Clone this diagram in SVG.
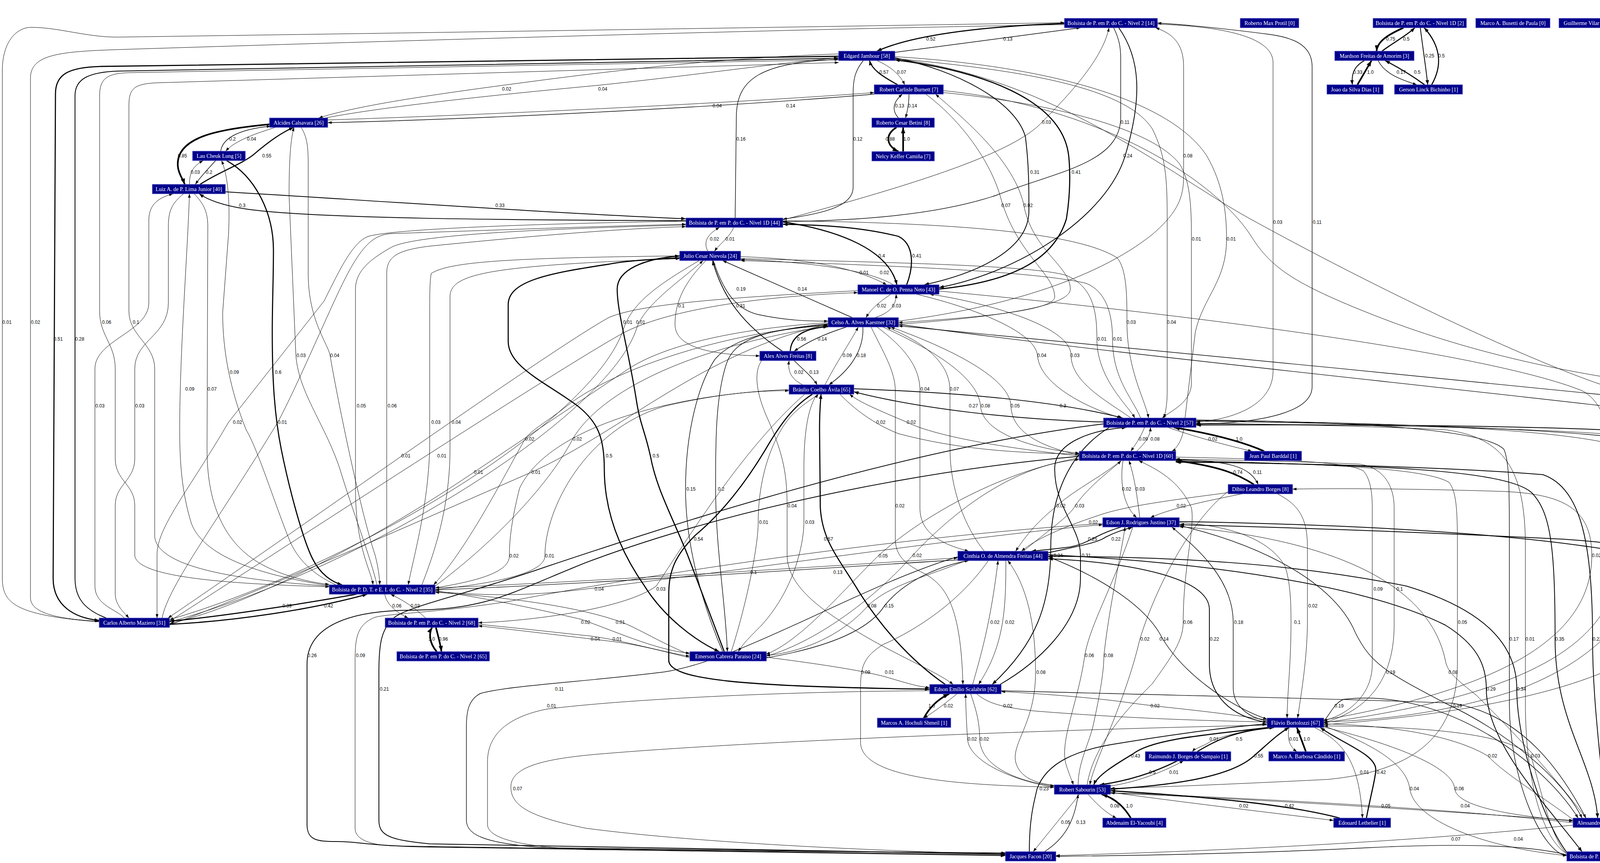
<svg xmlns="http://www.w3.org/2000/svg" width="4675" height="2209" viewBox="0 0 4675 2209">
<defs>
<style>
#edges path{fill:none;stroke:#000}
.w0{stroke-width:1;marker-end:url(#ma)}
.w1{stroke-width:1.4;marker-end:url(#ma)}
.w2{stroke-width:2;marker-end:url(#mb)}
.w3{stroke-width:2.8;marker-end:url(#mb)}
.w4{stroke-width:4.2;marker-end:url(#mc)}
.nd rect{fill:#00008b;stroke:#4848c0;stroke-width:1.2}
.nd text{font-family:"Liberation Serif","Times New Roman",serif;font-size:14px;fill:#fff;text-anchor:middle}
#labels text{font-family:"Liberation Sans",Arial,sans-serif;font-size:12px;fill:#000;text-anchor:middle}
</style>
<marker id="ma" viewBox="0 0 10 10" refX="10" refY="5" markerWidth="10" markerHeight="7" orient="auto" markerUnits="userSpaceOnUse" preserveAspectRatio="none"><path d="M0,0L10,5L0,10z" fill="#000"/></marker>
<marker id="mb" viewBox="0 0 10 10" refX="10" refY="5" markerWidth="12" markerHeight="9" orient="auto" markerUnits="userSpaceOnUse" preserveAspectRatio="none"><path d="M0,0L10,5L0,10z" fill="#000"/></marker>
<marker id="mc" viewBox="0 0 10 10" refX="10" refY="5" markerWidth="15" markerHeight="11" orient="auto" markerUnits="userSpaceOnUse" preserveAspectRatio="none"><path d="M0,0L10,5L0,10z" fill="#000"/></marker>
</defs>
<rect width="4675" height="2209" fill="#fff"/>
<g id="edges">
<path class="w4" d="M3593 71C3555 88 3526 105 3524 131"/>
<path class="w3" d="M3538 131C3565 110 3600 92 3622 71"/>
<path class="w2" d="M3636 71C3642 120 3650 170 3655 217"/>
<path class="w3" d="M3665 217C3692 170 3690 120 3646 71"/>
<path class="w2" d="M3493 155C3462 172 3460 195 3462 217"/>
<path class="w4" d="M3475 217L3511 155"/>
<path class="w1" d="M3528 155C3545 190 3590 205 3627 217"/>
<path class="w3" d="M3647 217C3610 190 3575 170 3546 155"/>
<path class="w3" d="M2725 60C2500 68 2330 92 2245 131"/>
<path class="w1" d="M2291 134L2766 71"/>
<path class="w3" d="M2298 217C2258 195 2232 178 2226 155"/>
<path class="w0" d="M2245 155C2280 170 2305 192 2316 217"/>
<path class="w1" d="M2300 302C2283 283 2285 262 2310 241"/>
<path class="w1" d="M2327 241C2327 262 2323 285 2318 302"/>
<path class="w4" d="M2295 326C2265 345 2268 372 2300 388"/>
<path class="w4" d="M2312 388L2312 326"/>
<path class="w0" d="M839 307C1300 292 1900 262 2238 237"/>
<path class="w1" d="M2238 241C1900 270 1300 303 839 314"/>
<path class="w0" d="M2147 138C1800 150 1500 190 1290 218C1050 250 900 275 816 302"/>
<path class="w0" d="M832 302C1000 270 1300 240 1535 218C1800 190 2000 160 2147 148"/>
<path class="w1" d="M1882 558L1885 300C1885 200 1950 160 2147 152"/>
<path class="w1" d="M2210 155C2190 180 2184 200 2184 240L2184 480C2184 530 2100 548 2004 561"/>
<path class="w0" d="M2004 563C2350 470 2600 390 2670 310C2760 220 2825 140 2839 71"/>
<path class="w1" d="M2851 71C2865 100 2869 120 2869 150L2869 300C2869 420 2700 440 2550 500C2400 550 2200 565 2004 567"/>
<path class="w2" d="M2864 71C2920 150 2925 250 2880 400C2830 560 2600 700 2404 736"/>
<path class="w0" d="M2300 822C2550 790 2800 720 2950 600C3020 540 3030 500 3030 450L3030 170C3030 110 3000 85 2958 71"/>
<path class="w0" d="M2963 62C3150 68 3259 100 3259 160L3259 950C3259 1040 3150 1075 3062 1080"/>
<path class="w1" d="M3062 1086C3250 1082 3359 1050 3359 990L3359 170C3359 110 3300 95 3250 88C3150 75 3050 64 2963 59"/>
<path class="w2" d="M2291 148C2450 180 2600 260 2625 350C2634 420 2634 480 2634 540C2634 640 2500 700 2366 729"/>
<path class="w3" d="M2404 740C2600 720 2700 660 2730 560C2740 500 2740 440 2736 400C2720 250 2500 180 2291 153"/>
<path class="w0" d="M2370 241C2450 300 2530 400 2560 500C2600 650 2700 700 2700 760C2700 800 2450 815 2300 826"/>
<path class="w0" d="M2300 830C2500 815 2740 790 2740 740C2740 680 2640 640 2620 520C2590 400 2450 290 2395 241"/>
<path class="w0" d="M2415 237C2700 265 2950 330 3020 420C3045 460 3050 520 3050 600L3050 980C3050 1030 3000 1050 2975 1070"/>
<path class="w0" d="M2291 145C2700 170 3000 260 3090 400C3130 470 3140 540 3140 612C3140 720 3080 760 3060 850L3030 1100C3025 1130 3010 1150 3000 1155"/>
<path class="w3" d="M2004 568C2150 590 2275 640 2296 729"/>
<path class="w3" d="M2321 729C2340 680 2340 625 2300 605C2200 580 2100 576 2004 574"/>
<path class="w0" d="M1812 643C1800 620 1810 600 1842 582"/>
<path class="w0" d="M1878 582C1870 605 1842 625 1829 643"/>
<path class="w0" d="M1896 657C2050 662 2180 680 2270 729"/>
<path class="w0" d="M2287 729C2230 695 2100 672 1896 664"/>
<path class="w1" d="M1826 667C1850 740 1880 790 1940 805C2020 822 2080 822 2120 822"/>
<path class="w1" d="M2182 813L1850 667"/>
<path class="w2" d="M2003 899C1900 830 1850 760 1824 667"/>
<path class="w0" d="M1807 667C1755 720 1728 770 1728 830C1728 890 1820 908 1945 911"/>
<path class="w0" d="M2281 753C2255 770 2230 790 2217 813"/>
<path class="w0" d="M2240 813C2280 800 2295 780 2294 753"/>
<path class="w3" d="M2023 899C2025 860 2060 840 2120 836"/>
<path class="w1" d="M2167 837C2100 858 2060 880 2033 899"/>
<path class="w0" d="M2112 985C2140 930 2180 870 2197 837"/>
<path class="w1" d="M2209 837C2212 900 2172 950 2122 985"/>
<path class="w0" d="M2055 985C2025 970 2016 950 2020 923"/>
<path class="w1" d="M2033 923C2055 945 2080 965 2092 985"/>
<path class="w2" d="M2186 995C2450 1005 2700 1025 2874 1070"/>
<path class="w2" d="M2825 1080C2600 1075 2350 1045 2186 1003"/>
<path class="w0" d="M2260 837C2400 900 2505 970 2510 1039C2515 1110 2650 1150 2763 1160"/>
<path class="w0" d="M2763 1165C2650 1140 2590 1100 2588 1039C2585 960 2400 880 2280 837"/>
<path class="w0" d="M2245 837C2330 900 2355 950 2355 1000L2355 1300C2355 1370 2420 1395 2480 1411"/>
<path class="w0" d="M2520 1411C2470 1350 2432 1250 2432 1150L2432 1000C2432 920 2350 870 2270 837"/>
<path class="w0" d="M1896 662C2300 672 2650 680 2730 705C2800 735 2808 800 2808 868C2808 970 2890 1040 2905 1070"/>
<path class="w0" d="M2920 1070C2900 1020 2848 970 2848 868C2848 800 2830 745 2780 725C2650 695 2300 680 1896 667"/>
<path class="w0" d="M2004 565C2400 570 2750 590 2860 660C2885 690 2885 760 2885 825C2885 950 2935 1030 2940 1070"/>
<path class="w0" d="M2291 150C2600 178 2880 220 2950 330C2985 400 2988 460 2988 560L2988 1000C2988 1040 2983 1055 2980 1070"/>
<path class="w0" d="M2346 753C2500 790 2650 850 2656 910C2662 990 2800 1050 2870 1070"/>
<path class="w0" d="M2895 1070C2840 1030 2742 980 2742 910C2742 830 2500 770 2380 753"/>
<path class="w0" d="M2150 1009C2200 1060 2250 1090 2300 1110C2450 1150 2600 1160 2763 1162"/>
<path class="w0" d="M2763 1167C2600 1150 2400 1120 2320 1080C2250 1050 2200 1030 2175 1009"/>
<path class="w0" d="M1790 667C1700 720 1620 770 1597 840C1520 1080 900 1450 434 1586"/>
<path class="w0" d="M434 1592C950 1450 1560 1060 1630 840C1650 780 1740 720 1800 667"/>
<path class="w4" d="M693 318C560 330 455 350 455 420C455 442 468 458 473 472"/>
<path class="w1" d="M565 387C570 350 620 330 693 323"/>
<path class="w0" d="M705 326C660 340 600 360 578 387"/>
<path class="w3" d="M512 472C560 440 620 420 650 395C700 352 730 335 752 326"/>
<path class="w0" d="M485 472C485 440 495 425 520 411"/>
<path class="w1" d="M552 411C535 430 515 450 500 472"/>
<path class="w2" d="M577 491C900 510 1400 545 1756 560"/>
<path class="w2" d="M1756 565C1300 563 800 560 630 535C565 525 530 510 510 496"/>
<path class="w0" d="M254 1592C40 1575 6 1545 6 1480L6 180C6 110 40 70 80 70C150 70 220 95 300 95C1000 85 2000 70 2725 58"/>
<path class="w0" d="M2725 63C2000 75 1000 105 300 127C150 132 78 140 78 200L78 1530C78 1570 150 1585 254 1590"/>
<path class="w3" d="M2147 144L260 170C175 172 142 190 142 240L136 1480C136 1550 190 1582 254 1588"/>
<path class="w2" d="M272 1582C215 1560 192 1530 192 1480L192 245C192 200 230 185 300 182L2147 149"/>
<path class="w0" d="M2147 153L330 186C275 188 255 200 255 245L255 796C255 860 295 880 295 944L295 1174C295 1230 345 1240 345 1294L345 1420C345 1480 600 1495 843 1502"/>
<path class="w0" d="M843 1500C600 1485 396 1450 396 1370L396 944C396 880 330 860 330 796L330 270C330 225 345 215 400 212L2147 160"/>
<path class="w0" d="M318 1582C300 1560 243 1550 243 1500L243 944C243 870 381 850 381 775L381 564C381 520 410 505 443 496"/>
<path class="w0" d="M470 496C440 520 431 540 431 580L431 775C431 860 345 870 345 944L345 1174C345 1230 295 1240 295 1294L295 1520C295 1550 320 1570 330 1582"/>
<path class="w0" d="M843 1499C650 1470 520 1420 490 1340C465 1260 460 1180 460 1100C460 900 480 650 485 496"/>
<path class="w0" d="M497 496C520 520 532 540 532 580L530 1150C530 1300 580 1400 680 1450C730 1475 790 1490 843 1496"/>
<path class="w0" d="M860 1497C800 1470 760 1430 740 1380C700 1280 660 1150 630 1100C590 1000 570 900 570 800L585 600C590 500 580 440 567 411"/>
<path class="w3" d="M580 411C650 450 700 540 700 640C700 720 697 770 697 850C697 950 700 1050 720 1150C740 1250 775 1380 800 1430C820 1470 850 1490 876 1497"/>
<path class="w0" d="M965 1497C950 1430 900 1300 870 1200C830 1080 760 1000 757 900L740 500C740 400 745 350 753 326"/>
<path class="w0" d="M771 326C785 350 789 370 789 420L789 700C789 820 840 880 845 910C860 1000 920 1300 960 1420C968 1450 972 1480 972 1497"/>
<path class="w0" d="M1756 566C1400 572 1000 585 940 606C900 625 870 690 830 770L585 1081C480 1260 402 1350 402 1420L402 1582"/>
<path class="w0" d="M415 1582C430 1500 560 1330 711 1081C760 990 840 800 880 720C930 620 960 602 1000 598C1300 588 1500 580 1756 574"/>
<path class="w0" d="M1756 576C1300 588 1050 605 1000 634C955 660 910 690 910 740L910 1250C910 1400 950 1460 955 1497"/>
<path class="w0" d="M990 1497L990 700C990 655 1020 640 1100 630C1400 600 1600 585 1756 580"/>
<path class="w0" d="M1740 655C1300 660 1150 670 1104 700C1100 720 1100 760 1100 800L1100 1150C1095 1300 1060 1420 1045 1497"/>
<path class="w0" d="M1080 1497C1110 1420 1152 1300 1152 1150L1152 760C1152 700 1250 680 1740 662"/>
<path class="w0" d="M2196 744C1900 760 1650 775 1560 812C1400 900 700 1400 430 1582"/>
<path class="w0" d="M434 1590C700 1420 1450 930 1600 850C1700 800 1900 760 2196 749"/>
<path class="w0" d="M2120 826C1900 840 1700 880 1600 950L1213 1209C900 1420 600 1560 434 1596"/>
<path class="w0" d="M434 1600C700 1500 1150 1300 1360 1209C1600 1100 1800 900 2120 830"/>
<path class="w0" d="M2120 830C1800 860 1550 960 1450 1040C1400 1080 1360 1100 1344 1124C1300 1200 1200 1400 1110 1497"/>
<path class="w0" d="M1114 1500C1250 1400 1400 1250 1466 1124C1520 1030 1700 900 2120 834"/>
<path class="w0" d="M2020 997C1700 1010 1400 1100 1330 1250C1310 1330 1304 1380 1304 1423C1304 1470 1200 1490 1114 1505"/>
<path class="w0" d="M1114 1509C1250 1495 1395 1470 1395 1423C1395 1300 1500 1100 1700 1040C1850 1005 1950 1000 2020 1000"/>
<path class="w0" d="M2060 1009C1900 1150 1760 1380 1680 1500C1600 1560 1350 1590 1224 1594"/>
<path class="w0" d="M1114 1514C1300 1530 1400 1520 1522 1505C1900 1460 2500 1370 2823 1343"/>
<path class="w3" d="M912 1521C750 1550 550 1580 434 1590"/>
<path class="w3" d="M434 1598C600 1590 800 1560 940 1521"/>
<path class="w0" d="M985 1521C990 1550 1020 1570 1045 1582"/>
<path class="w0" d="M1090 1582C1070 1565 1050 1545 1000 1521"/>
<path class="w4" d="M1118 1668C1098 1645 1098 1620 1106 1606"/>
<path class="w4" d="M1116 1606C1122 1630 1128 1650 1130 1668"/>
<path class="w0" d="M1114 1512C1300 1540 1420 1570 1487 1585C1560 1610 1680 1665 1766 1672"/>
<path class="w0" d="M1766 1676C1680 1640 1620 1600 1578 1588C1450 1545 1250 1525 1114 1516"/>
<path class="w0" d="M1224 1598C1350 1610 1450 1622 1512 1628C1600 1640 1700 1670 1766 1680"/>
<path class="w0" d="M1766 1684C1680 1662 1620 1648 1568 1642C1450 1628 1300 1610 1224 1602"/>
<path class="w3" d="M1740 660C1650 665 1600 668 1560 676C1400 700 1301 720 1301 780L1301 874C1301 940 1400 980 1480 1040C1530 1080 1547 1120 1547 1200C1547 1300 1580 1400 1650 1500C1700 1580 1780 1640 1841 1668"/>
<path class="w3" d="M1854 1668C1820 1580 1790 1500 1760 1420C1720 1320 1680 1250 1665 1167C1650 1100 1640 1090 1630 1030C1610 900 1580 800 1580 740C1580 690 1650 662 1740 655"/>
<path class="w1" d="M1850 1668C1800 1550 1755 1400 1755 1252C1755 1100 1790 980 1830 920C1880 860 2000 840 2120 833"/>
<path class="w1" d="M2120 829C1950 845 1880 870 1860 930C1830 1020 1832 1150 1832 1252C1832 1400 1858 1550 1862 1668"/>
<path class="w3" d="M2080 1009C2030 1040 1995 1090 1960 1150C1900 1250 1840 1320 1780 1370C1730 1420 1712 1460 1712 1520L1712 1690C1712 1740 1900 1758 2380 1764"/>
<path class="w3" d="M2420 1752C2330 1690 2250 1600 2190 1500C2140 1420 2105 1380 2100 1300L2098 1100C2098 1050 2100 1030 2102 1009"/>
<path class="w0" d="M1872 1668C1910 1550 1941 1400 1941 1337C1941 1200 1990 1100 2030 1060C2060 1030 2090 1015 2095 1009"/>
<path class="w0" d="M2092 1009C2070 1040 2058 1100 2058 1200L2058 1337C2058 1380 2040 1500 1950 1600C1920 1630 1900 1650 1890 1668"/>
<path class="w0" d="M1950 923C1930 950 1935 1000 1960 1060C2000 1150 2015 1200 2015 1295L2015 1420C2015 1500 2100 1560 2200 1620C2300 1680 2400 1720 2440 1752"/>
<path class="w0" d="M2230 837C2260 900 2292 950 2292 1000L2292 1380C2292 1430 2330 1450 2370 1470C2420 1500 2460 1550 2465 1752"/>
<path class="w0" d="M2763 1172C2550 1210 2350 1330 2248 1423C2150 1520 2050 1640 1961 1675"/>
<path class="w0" d="M1961 1680C2100 1640 2250 1520 2336 1422C2450 1300 2600 1190 2763 1176"/>
<path class="w0" d="M1114 1505C1500 1490 2100 1450 2452 1428"/>
<path class="w1" d="M2452 1433C2100 1455 1500 1495 1114 1510"/>
<path class="w0" d="M2473 1435C2360 1480 2270 1500 2218 1555C2150 1630 2050 1670 1961 1678"/>
<path class="w1" d="M1961 1684C2100 1660 2220 1620 2264 1551C2320 1480 2420 1445 2480 1435"/>
<path class="w0" d="M2530 1435C2450 1550 2330 1620 2260 1650C2215 1680 2203 1700 2203 1760L2203 1900C2203 2000 2500 2010 2699 2015"/>
<path class="w0" d="M1961 1682C2100 1700 2200 1715 2265 1732C2320 1748 2350 1758 2380 1760"/>
<path class="w0" d="M2490 1752C2510 1680 2535 1600 2555 1435"/>
<path class="w0" d="M2575 1435C2575 1550 2573 1650 2505 1752"/>
<path class="w2" d="M2840 1094C2750 1150 2690 1250 2690 1400C2690 1550 2650 1650 2540 1752"/>
<path class="w2" d="M2560 1752C2650 1700 2766 1600 2766 1480L2766 1421C2766 1350 2700 1300 2700 1200C2700 1130 2800 1100 2884 1094"/>
<path class="w2" d="M2870 1349C2800 1370 2790 1390 2740 1400C2700 1405 2670 1408 2640 1411"/>
<path class="w2" d="M2683 1415C2750 1400 2810 1390 2830 1375C2860 1360 2880 1355 2900 1349"/>
<path class="w0" d="M3144 1261C3000 1280 2880 1295 2810 1320C2720 1350 2650 1380 2615 1411"/>
<path class="w0" d="M2870 1179C2820 1220 2740 1260 2700 1300C2650 1340 2620 1380 2600 1411"/>
<path class="w0" d="M2620 1411C2680 1360 2740 1320 2752 1295C2790 1240 2850 1200 2870 1179"/>
<path class="w0" d="M2875 1179C2868 1220 2870 1290 2910 1325"/>
<path class="w0" d="M2918 1325C2912 1280 2905 1220 2890 1179"/>
<path class="w0" d="M3180 1264C3100 1280 3000 1300 2945 1325"/>
<path class="w0" d="M2930 1094C2920 1120 2905 1140 2895 1155"/>
<path class="w0" d="M2910 1155C2935 1130 2945 1115 2945 1094"/>
<path class="w0" d="M2990 1094C3050 1115 3120 1135 3205 1155"/>
<path class="w4" d="M3236 1155C3180 1130 3100 1110 3005 1094"/>
<path class="w4" d="M3210 1240C3170 1215 3130 1195 3010 1179"/>
<path class="w1" d="M3010 1176C3150 1180 3200 1195 3221 1240"/>
<path class="w4" d="M2365 1838C2380 1810 2400 1790 2430 1776"/>
<path class="w0" d="M2450 1776C2420 1800 2395 1820 2365 1838"/>
<path class="w0" d="M2500 1776C2530 1800 2560 1810 2650 1820C2900 1840 3100 1845 3244 1848"/>
<path class="w0" d="M3244 1843C3100 1820 2970 1810 2900 1800C2800 1785 2650 1775 2563 1770"/>
<path class="w0" d="M2699 2015C2600 2000 2480 1950 2477 1892C2474 1850 2472 1800 2472 1776"/>
<path class="w0" d="M2485 1776C2500 1820 2508 1850 2508 1892C2510 1960 2600 2000 2699 2012"/>
<path class="w0" d="M2699 2010C2650 2005 2610 1990 2600 1950C2590 1900 2651 1850 2651 1721C2651 1600 2630 1500 2580 1435"/>
<path class="w0" d="M2900 1349C2850 1500 2790 1600 2777 1678C2760 1800 2710 1900 2730 1960C2740 1990 2745 2000 2748 2009"/>
<path class="w0" d="M2760 2009C2760 1950 2790 1900 2800 1850C2815 1780 2826 1720 2826 1678C2840 1550 2870 1420 2880 1349"/>
<path class="w0" d="M2783 2009C2800 1900 2900 1800 2950 1750C3000 1680 3029 1640 3029 1593C3029 1450 3060 1350 3050 1300C3020 1230 2960 1200 2915 1179"/>
<path class="w0" d="M3144 1258C3050 1330 2960 1500 2918 1636C2880 1800 2800 1950 2790 2009"/>
<path class="w1" d="M2683 1425C2800 1470 2920 1540 2968 1620C3020 1720 3150 1810 3244 1841"/>
<path class="w3" d="M3250 1862C3100 1880 2950 1890 2900 1930C2850 1960 2810 1985 2800 2009"/>
<path class="w3" d="M2843 2020C3000 2010 3150 1990 3210 1935C3250 1900 3270 1880 3300 1862"/>
<path class="w0" d="M3250 1862C3180 1870 3110 1890 3096 1900C3080 1910 3060 1915 3052 1924"/>
<path class="w3" d="M3065 1924C3120 1890 3170 1870 3262 1862"/>
<path class="w0" d="M3300 1862C3295 1890 3300 1910 3320 1924"/>
<path class="w4" d="M3343 1924L3320 1862"/>
<path class="w3" d="M3015 1947C2950 1980 2880 2000 2815 2009"/>
<path class="w0" d="M2843 2012C2920 2000 2990 1970 3030 1947"/>
<path class="w0" d="M3365 1862C3440 1900 3480 1950 3488 2094"/>
<path class="w3" d="M3498 2094C3510 2030 3522 1990 3522 1970C3522 1930 3430 1900 3380 1862"/>
<path class="w2" d="M2635 2180C2635 2100 2645 2060 2655 2019C2680 1950 2760 1920 2850 1905C3000 1880 3150 1860 3244 1853"/>
<path class="w0" d="M2785 2033C2810 2060 2830 2080 2858 2094"/>
<path class="w4" d="M2895 2094C2880 2070 2860 2045 2820 2033"/>
<path class="w0" d="M2843 2028C3000 2050 3250 2080 3414 2100"/>
<path class="w3" d="M3430 2094C3300 2060 3100 2040 2843 2024"/>
<path class="w0" d="M2843 2030C3200 2045 3600 2070 4027 2100"/>
<path class="w0" d="M2764 2033L2645 2180"/>
<path class="w1" d="M2674 2180C2720 2150 2750 2110 2760 2033"/>
<path class="w2" d="M2763 1168C2400 1200 1900 1290 1500 1440C1300 1520 1250 1560 1050 1562C900 1563 786 1600 786 1700L786 2110C786 2150 810 2154 860 2154C920 2154 940 2165 1100 2168L2574 2190"/>
<path class="w0" d="M2823 1340C2200 1380 1500 1500 1300 1540C1100 1570 1000 1570 960 1580C910 1600 909 1640 909 1700L909 2120C909 2150 950 2162 1000 2165L2574 2188"/>
<path class="w2" d="M2825 1085C2300 1150 1700 1350 1400 1450C1200 1520 1050 1550 1010 1580C975 1610 970 1650 970 1720L970 2100C970 2140 1000 2150 1100 2160L2574 2186"/>
<path class="w1" d="M2452 1425C2200 1500 1900 1690 1700 1720C1500 1745 1300 1755 1230 1775C1200 1790 1194 1820 1194 1860L1194 2100C1194 2140 1250 2160 1400 2170L2574 2184"/>
<path class="w0" d="M2380 1768C2000 1770 1600 1790 1400 1815C1300 1835 1248 1880 1248 1950L1248 2110C1248 2150 1350 2168 1500 2175L2574 2183"/>
<path class="w0" d="M3244 1856C2600 1870 1900 1900 1560 1928C1400 1940 1313 1960 1308 2010C1305 2060 1350 2090 1500 2120C1800 2160 2300 2180 2574 2186"/>
<path class="w0" d="M3010 1170C3300 1176 3450 1183 3490 1205C3508 1225 3513 1260 3513 1300L3513 1700C3513 1780 3450 1830 3388 1845"/>
<path class="w0" d="M3388 1850C3480 1825 3569 1760 3569 1600L3569 1300C3569 1230 3530 1195 3480 1188C3300 1180 3100 1177 3010 1175"/>
<path class="w0" d="M3270 1264C3320 1290 3347 1320 3347 1400L3347 1600C3345 1700 3330 1780 3322 1838"/>
<path class="w0" d="M3019 1338C3150 1345 3250 1380 3290 1450C3303 1490 3305 1540 3305 1593C3305 1700 3295 1780 3295 1838"/>
<path class="w1" d="M3244 1845C3200 1838 3157 1810 3157 1760L3157 1593C3157 1480 3060 1400 3000 1349"/>
<path class="w2" d="M3244 1849C3150 1835 3096 1780 3096 1700L3096 1560C3096 1480 2900 1440 2683 1430"/>
<path class="w0" d="M3010 1178C3400 1188 3650 1198 3710 1235C3728 1260 3731 1300 3731 1400L3731 1700C3731 1900 3600 1975 3400 1995C3100 2010 2950 2015 2843 2018"/>
<path class="w1" d="M3062 1075C3500 1080 3800 1100 3850 1150C3864 1180 3864 1250 3864 1400L3864 1800C3864 2000 3950 2185 4011 2190"/>
<path class="w0" d="M4011 2185C3950 2150 3905 2000 3905 1800L3905 1400C3905 1200 3850 1120 3700 1100C3500 1090 3200 1085 3062 1083"/>
<path class="w2" d="M3010 1181C3500 1190 3850 1200 3920 1260C3970 1310 3981 1400 3981 1636C3981 1850 4080 1950 4090 2094"/>
<path class="w2" d="M4110 2094C4100 1950 4077 1800 4077 1636C4077 1400 4050 1250 3950 1215C3700 1195 3300 1185 3010 1183"/>
<path class="w1" d="M3062 1078C3600 1085 4250 1100 4320 1160C4335 1200 4335 1300 4335 1593C4335 1900 4330 2050 4242 2100"/>
<path class="w2" d="M4242 2106C4380 2060 4431 1900 4431 1593C4431 1300 4420 1150 4300 1110C4000 1090 3500 1086 3062 1088"/>
<path class="w2" d="M3019 1335C3600 1345 4100 1380 4300 1450C4380 1490 4392 1580 4392 1678C4392 1900 4350 2150 4258 2185"/>
<path class="w2" d="M4258 2192C4400 2160 4449 1950 4449 1678C4449 1450 4300 1400 4000 1380C3600 1360 3300 1350 3019 1343"/>
<path class="w1" d="M2300 830C2800 900 3600 980 4200 1050C4500 1090 4549 1200 4549 1465C4549 1800 4500 2050 4242 2103"/>
<path class="w1" d="M4242 2110C4550 2070 4589 1800 4589 1465C4589 1150 4500 1050 4200 1020C3600 960 2800 880 2300 834"/>
<path class="w0" d="M2291 150C2700 200 3000 450 3200 560C3600 780 4000 960 4150 1000C4220 1015 4248 1030 4250 1070L4262 1900C4262 2100 4262 2170 4250 2180"/>
<path class="w0" d="M2415 232C2800 270 3100 450 3200 600C3250 680 3300 720 3500 800C3900 960 4250 980 4400 1010C4460 1025 4478 1060 4478 1150L4478 1900C4478 2050 4350 2095 4242 2100"/>
<path class="w0" d="M2404 745C3000 800 3800 900 4050 1000C4130 1040 4144 1200 4144 1422C4144 1650 3900 1780 3388 1850"/>
<path class="w0" d="M3388 1843C3800 1770 4075 1650 4075 1422C4075 1300 4000 1265 3850 1258C3600 1250 3400 1250 3309 1252"/>
<path class="w0" d="M3062 1076C3600 1082 4100 1100 4190 1160C4220 1190 4226 1260 4226 1337C4226 1550 4100 1680 3900 1760C3700 1830 3500 1845 3388 1848"/>
<path class="w0" d="M3388 1855C3600 1840 3950 1800 4150 1700C4250 1630 4280 1500 4280 1337C4280 1200 4230 1130 4100 1110C3800 1090 3300 1086 3062 1085"/>
<path class="w1" d="M3019 1345C3250 1400 3420 1500 3470 1620C3510 1700 3548 1720 3700 1800C3850 1870 4000 1990 4050 2094"/>
<path class="w0" d="M4060 2094C3950 1950 3850 1850 3780 1780C3730 1740 3705 1721 3700 1690C3650 1450 3300 1370 3019 1348"/>
<path class="w2" d="M2683 1420C3100 1440 3500 1500 3700 1600C3780 1650 3805 1700 3805 1764C3805 1900 3950 2050 4050 2180"/>
<path class="w2" d="M4011 2182C3950 2100 3883 1900 3883 1764C3883 1650 3800 1560 3600 1500C3300 1440 3000 1425 2683 1424"/>
<path class="w1" d="M3389 1845C3405 1830 3414 1800 3440 1790C3700 1760 3950 1950 4040 2094"/>
<path class="w1" d="M2563 1768C3000 1780 3500 1790 3719 1800C3900 1830 4000 1980 4060 2094"/>
<path class="w0" d="M4027 2098C3950 2040 3850 1980 3809 1935C3700 1870 3500 1855 3389 1853"/>
<path class="w0" d="M4011 2185C3970 2150 3940 2000 3919 1935C3850 1870 3600 1860 3389 1858"/>
<path class="w0" d="M3389 1858C3500 1900 3600 1950 3609 2019C3620 2100 3800 2170 4011 2190"/>
<path class="w0" d="M3389 1861C3550 1900 3720 1960 3724 2019C3730 2070 3900 2090 4027 2102"/>
<path class="w0" d="M4027 2106C3800 2080 3500 2060 3200 2045C3000 2035 2900 2030 2843 2030"/>
<path class="w0" d="M4027 2112C3800 2135 3400 2170 2703 2190"/>
<path class="w1" d="M4011 2188C3900 2160 3700 2160 3500 2170C3200 2185 2900 2190 2703 2192"/>
<path class="w1" d="M4122 2180C4105 2160 4105 2140 4115 2118"/>
<path class="w1" d="M4135 2118L4135 2180"/>
</g>
<g id="labels">
<text x="3560" y="104">0.75</text><text x="3600" y="104">0.5</text><text x="3660" y="147">0.25</text><text x="3690" y="147">0.5</text>
<text x="3476" y="189">0.33</text><text x="3508" y="189">1.0</text><text x="3587" y="189">0.17</text><text x="3628" y="189">0.5</text>
<text x="2383" y="104">0.52</text><text x="2580" y="104">0.13</text><text x="2263" y="189">0.57</text><text x="2308" y="189">0.07</text>
<text x="2303" y="275">0.13</text><text x="2336" y="275">0.14</text><text x="2279" y="360">0.88</text><text x="2321" y="360">1.0</text>
<text x="1836" y="275">0.04</text><text x="2024" y="275">0.14</text><text x="1297" y="232">0.02</text><text x="1543" y="232">0.04</text>
<text x="1897" y="360">0.16</text><text x="2196" y="360">0.12</text><text x="2679" y="317">0.03</text><text x="2880" y="317">0.11</text>
<text x="2887" y="403">0.24</text><text x="3041" y="403">0.08</text><text x="3271" y="573">0.03</text><text x="3372" y="573">0.11</text>
<text x="2649" y="445">0.31</text><text x="2755" y="445">0.41</text><text x="2575" y="530">0.07</text><text x="2632" y="530">0.02</text>
<text x="3063" y="616">0.01</text><text x="3152" y="616">0.01</text>
<text x="2257" y="659">0.4</text><text x="2347" y="659">0.41</text><text x="1829" y="616">0.02</text><text x="1869" y="616">0.01</text>
<text x="2212" y="702">0.01</text><text x="2264" y="702">0.02</text><text x="1897" y="744">0.19</text><text x="2054" y="744">0.14</text>
<text x="1896" y="787">0.31</text><text x="1744" y="787">0.1</text><text x="2257" y="787">0.02</text><text x="2295" y="787">0.03</text>
<text x="2052" y="872">0.56</text><text x="2105" y="872">0.14</text><text x="2169" y="914">0.09</text><text x="2205" y="914">0.18</text>
<text x="2045" y="957">0.02</text><text x="2084" y="957">0.13</text><text x="2721" y="1043">0.3</text><text x="2492" y="1043">0.27</text>
<text x="2523" y="1043">0.08</text><text x="2599" y="1043">0.05</text><text x="2368" y="1000">0.04</text><text x="2443" y="1000">0.07</text>
<text x="2821" y="872">0.01</text><text x="2861" y="872">0.01</text><text x="2896" y="829">0.03</text><text x="2999" y="829">0.04</text>
<text x="2667" y="914">0.04</text><text x="2752" y="914">0.03</text><text x="2255" y="1085">0.02</text><text x="2333" y="1085">0.02</text>
<text x="1607" y="829">0.01</text><text x="1640" y="829">0.01</text>
<text x="467" y="403">0.85</text><text x="595" y="360">0.2</text><text x="644" y="360">0.04</text><text x="683" y="403">0.55</text>
<text x="500" y="445">0.03</text><text x="535" y="445">0.2</text><text x="620" y="530">0.3</text><text x="1280" y="530">0.33</text>
<text x="18" y="829">0.01</text><text x="91" y="829">0.02</text><text x="273" y="829">0.06</text><text x="348" y="829">0.1</text>
<text x="149" y="872">0.51</text><text x="204" y="872">0.28</text><text x="256" y="1043">0.03</text><text x="358" y="1043">0.03</text>
<text x="486" y="1000">0.09</text><text x="543" y="1000">0.07</text><text x="600" y="957">0.09</text><text x="712" y="957">0.6</text>
<text x="771" y="914">0.03</text><text x="857" y="914">0.04</text><text x="608" y="1085">0.02</text><text x="723" y="1085">0.01</text>
<text x="925" y="1043">0.05</text><text x="1004" y="1043">0.06</text><text x="1116" y="1085">0.03</text><text x="1168" y="1085">0.04</text>
<text x="1039" y="1171">0.01</text><text x="1131" y="1171">0.01</text><text x="1225" y="1213">0.01</text><text x="1372" y="1213">0.01</text>
<text x="1356" y="1128">0.02</text><text x="1478" y="1128">0.02</text><text x="1316" y="1427">0.02</text><text x="1407" y="1427">0.01</text>
<text x="1692" y="1512">0.03</text><text x="1534" y="1512">0.04</text><text x="735" y="1555">0.39</text><text x="841" y="1555">0.42</text>
<text x="1016" y="1555">0.06</text><text x="1063" y="1555">0.03</text><text x="1105" y="1640">1.0</text><text x="1135" y="1640">0.96</text>
<text x="1499" y="1597">0.02</text><text x="1588" y="1597">0.01</text><text x="1524" y="1640">0.04</text><text x="1580" y="1640">0.01</text>
<text x="1559" y="1171">0.5</text><text x="1679" y="1171">0.5</text><text x="1769" y="1256">0.15</text><text x="1846" y="1256">0.2</text>
<text x="2028" y="1299">0.04</text><text x="2304" y="1299">0.02</text><text x="1955" y="1341">0.01</text><text x="2073" y="1341">0.03</text>
<text x="1788" y="1384">0.54</text><text x="2121" y="1384">0.57</text><text x="2261" y="1427">0.05</text><text x="2348" y="1426">0.02</text>
<text x="1929" y="1469">0.1</text><text x="2145" y="1469">0.13</text><text x="2232" y="1555">0.08</text><text x="2276" y="1555">0.15</text>
<text x="2216" y="1725">0.09</text><text x="2277" y="1725">0.01</text><text x="2547" y="1597">0.02</text><text x="2585" y="1597">0.02</text>
<text x="2709" y="1426">0.34</text><text x="2781" y="1426">0.31</text><text x="2797" y="1384">0.25</text><text x="2857" y="1384">0.22</text>
<text x="2799" y="1341">0.02</text><text x="2716" y="1299">0.02</text><text x="2764" y="1299">0.03</text><text x="2884" y="1256">0.02</text>
<text x="2919" y="1256">0.03</text><text x="3024" y="1299">0.02</text><text x="2927" y="1128">0.09</text><text x="2957" y="1128">0.08</text>
<text x="3105" y="1128">0.02</text><text x="3172" y="1128">1.0</text><text x="3169" y="1213">0.74</text><text x="3219" y="1213">0.11</text>
<text x="2665" y="1725">0.08</text><text x="2789" y="1682">0.06</text><text x="2838" y="1682">0.08</text><text x="3041" y="1597">0.06</text>
<text x="2931" y="1640">0.02</text>
<text x="2385" y="1811">1.0</text><text x="2428" y="1811">0.02</text><text x="2580" y="1811">0.02</text><text x="2957" y="1811">0.02</text>
<text x="2489" y="1896">0.02</text><text x="2520" y="1896">0.02</text><text x="2907" y="1939">0.43</text><text x="2950" y="1981">0.5</text>
<text x="3005" y="1981">0.01</text><text x="3108" y="1896">0.01</text><text x="3172" y="1896">0.5</text><text x="3312" y="1896">0.01</text>
<text x="3345" y="1896">1.0</text><text x="3222" y="1939">0.55</text><text x="3493" y="1981">0.01</text><text x="3536" y="1981">0.42</text>
<text x="2673" y="2023">0.23</text><text x="2854" y="2067">0.08</text><text x="2891" y="2067">1.0</text><text x="3184" y="2067">0.02</text>
<text x="3301" y="2067">0.42</text><text x="3548" y="2067">0.05</text><text x="2728" y="2109">0.05</text><text x="2767" y="2109">0.13</text>
<text x="799" y="1682">0.26</text><text x="923" y="1682">0.09</text><text x="984" y="1768">0.21</text><text x="1432" y="1768">0.11</text>
<text x="1412" y="1811">0.01</text><text x="1325" y="2023">0.07</text>
<text x="3528" y="1512">0.09</text><text x="3583" y="1512">0.1</text><text x="3361" y="1555">0.02</text><text x="3321" y="1597">0.1</text>
<text x="3171" y="1597">0.18</text><text x="3109" y="1640">0.22</text><text x="2980" y="1640">0.14</text><text x="3744" y="1597">0.05</text>
<text x="3876" y="1640">0.17</text><text x="3917" y="1640">0.01</text><text x="3993" y="1640">0.35</text><text x="4089" y="1640">0.22</text>
<text x="4347" y="1597">0.14</text><text x="4443" y="1597">0.22</text><text x="4404" y="1682">0.23</text><text x="4461" y="1682">0.31</text>
<text x="4561" y="1469">0.16</text><text x="4601" y="1469">0.14</text><text x="4263" y="1043">0.01</text><text x="4491" y="1043">0.07</text>
<text x="4156" y="1426">0.02</text><text x="4087" y="1426">0.02</text><text x="4238" y="1341">0.06</text><text x="4292" y="1341">0.03</text>
<text x="3560" y="1725">0.19</text><text x="3720" y="1725">0.08</text><text x="3817" y="1768">0.29</text><text x="3895" y="1768">0.34</text>
<text x="3428" y="1811">0.19</text><text x="3731" y="1811">0.19</text><text x="3821" y="1939">0.02</text><text x="3931" y="1939">0.03</text>
<text x="3621" y="2023">0.04</text><text x="3736" y="2023">0.06</text><text x="3751" y="2067">0.04</text><text x="3727" y="2152">0.07</text>
<text x="3887" y="2152">0.04</text><text x="4116" y="2152">0.15</text><text x="4148" y="2152">0.18</text>
</g>
<g id="nodes">
<g id="n01" class="nd"><rect x="2725" y="47" width="238" height="24"/><text x="2844" y="64">Bolsista de P. em P. do C. - Nível 2 [14]</text></g>
<g id="n02" class="nd"><rect x="3175" y="47" width="150" height="24"/><text x="3250" y="64">Roberto Max Protil [0]</text></g>
<g id="n03" class="nd"><rect x="3515" y="47" width="239" height="24"/><text x="3634.5" y="64">Bolsista de P. em P. do C. - Nível 1D [2]</text></g>
<g id="n04" class="nd"><rect x="3778" y="47" width="190" height="24"/><text x="3873" y="64">Marco A. Busetti de Paula [0]</text></g>
<g id="n05" class="nd"><rect x="3991" y="47" width="135" height="24"/><text x="4058.5" y="64">Guilherme Vilar [0]</text></g>
<g id="n06" class="nd"><rect x="4148" y="47" width="164" height="24"/><text x="4230" y="64">Anselmo Chaves Neto [0]</text></g>
<g id="n07" class="nd"><rect x="2147" y="131" width="144" height="24"/><text x="2219" y="148">Edgard Jamhour [58]</text></g>
<g id="n08" class="nd"><rect x="3417" y="131" width="203" height="24"/><text x="3518.5" y="148">Mardson Freitas de Amorim [3]</text></g>
<g id="n09" class="nd"><rect x="2238" y="217" width="177" height="24"/><text x="2326.5" y="234">Robert Carlisle Burnett [7]</text></g>
<g id="n10" class="nd"><rect x="3397" y="217" width="144" height="24"/><text x="3469" y="234">Joao da Silva Dias [1]</text></g>
<g id="n11" class="nd"><rect x="3570" y="217" width="174" height="24"/><text x="3657" y="234">Gerson Linck Bichinho [1]</text></g>
<g id="n12" class="nd"><rect x="690" y="302" width="149" height="24"/><text x="764.5" y="319">Alcides Calsavara [26]</text></g>
<g id="n13" class="nd"><rect x="2232" y="302" width="160" height="24"/><text x="2312" y="319">Roberto Cesar Betini [8]</text></g>
<g id="n14" class="nd"><rect x="493" y="387" width="135" height="24"/><text x="560.5" y="404">Lau Cheuk Lung [5]</text></g>
<g id="n15" class="nd"><rect x="2232" y="388" width="160" height="24"/><text x="2312" y="405">Nelcy Keffer Camiña [7]</text></g>
<g id="n16" class="nd"><rect x="390" y="472" width="187" height="24"/><text x="483.5" y="489">Luiz A. de P. Lima Junior [40]</text></g>
<g id="n17" class="nd"><rect x="1756" y="558" width="248" height="24"/><text x="1880" y="575">Bolsista de P. em P. do C. - Nível 1D [44]</text></g>
<g id="n18" class="nd"><rect x="1740" y="643" width="156" height="24"/><text x="1818" y="660">Julio Cesar Nievola [24]</text></g>
<g id="n19" class="nd"><rect x="2196" y="729" width="208" height="24"/><text x="2300" y="746">Manoel C. de O. Penna Neto [43]</text></g>
<g id="n20" class="nd"><rect x="2120" y="813" width="180" height="24"/><text x="2210" y="830">Celso A. Alves Kaestner [32]</text></g>
<g id="n21" class="nd"><rect x="1945" y="899" width="144" height="24"/><text x="2017" y="916">Alex Alves Freitas [8]</text></g>
<g id="n22" class="nd"><rect x="2020" y="985" width="166" height="24"/><text x="2103" y="1002">Bráulio Coelho Ávila [65]</text></g>
<g id="n23" class="nd"><rect x="2825" y="1070" width="237" height="24"/><text x="2943.5" y="1087">Bolsista de P. em P. do C. - Nível 2 [57]</text></g>
<g id="n24" class="nd"><rect x="2763" y="1155" width="247" height="24"/><text x="2886.5" y="1172">Bolsista de P. em P. do C. - Nível 1D [60]</text></g>
<g id="n25" class="nd"><rect x="3186" y="1155" width="146" height="24"/><text x="3259" y="1172">Jean Paul Barddal [1]</text></g>
<g id="n26" class="nd"><rect x="3144" y="1240" width="165" height="24"/><text x="3226.5" y="1257">Díbio Leandro Borges [8]</text></g>
<g id="n27" class="nd"><rect x="2823" y="1325" width="196" height="24"/><text x="2921" y="1342">Edson J. Rodrigues Justino [37]</text></g>
<g id="n28" class="nd"><rect x="2452" y="1411" width="231" height="24"/><text x="2567.5" y="1428">Cinthia O. de Almendra Freitas [44]</text></g>
<g id="n29" class="nd"><rect x="843" y="1497" width="271" height="24"/><text x="978.5" y="1514">Bolsista de P. D. T. e E. I. do C. - Nível 2 [35]</text></g>
<g id="n30" class="nd"><rect x="254" y="1582" width="180" height="24"/><text x="344" y="1599">Carlos Alberto Maziero [31]</text></g>
<g id="n31" class="nd"><rect x="986" y="1582" width="238" height="24"/><text x="1105" y="1599">Bolsista de P. em P. do C. - Nível 2 [68]</text></g>
<g id="n32" class="nd"><rect x="1016" y="1668" width="237" height="24"/><text x="1134.5" y="1685">Bolsista de P. em P. do C. - Nível 2 [65]</text></g>
<g id="n33" class="nd"><rect x="1766" y="1668" width="196" height="24"/><text x="1864" y="1685">Emerson Cabrera Paraiso [24]</text></g>
<g id="n34" class="nd"><rect x="2380" y="1752" width="183" height="24"/><text x="2471.5" y="1769">Edson Emílio Scalabrin [62]</text></g>
<g id="n35" class="nd"><rect x="2246" y="1838" width="188" height="24"/><text x="2340" y="1855">Marcos A. Hochuli Shmeil [1]</text></g>
<g id="n36" class="nd"><rect x="3244" y="1838" width="145" height="24"/><text x="3316.5" y="1855">Flávio Bortolozzi [67]</text></g>
<g id="n37" class="nd"><rect x="2932" y="1924" width="219" height="24"/><text x="3041.5" y="1941">Raimundo J. Borges de Sampaio [1]</text></g>
<g id="n38" class="nd"><rect x="3248" y="1924" width="194" height="24"/><text x="3345" y="1941">Marco A. Barbosa Cândido [1]</text></g>
<g id="n39" class="nd"><rect x="2699" y="2009" width="144" height="24"/><text x="2771" y="2026">Robert Sabourin [53]</text></g>
<g id="n40" class="nd"><rect x="2823" y="2094" width="162" height="24"/><text x="2904" y="2111">Abdenaim El-Yacoubi [4]</text></g>
<g id="n41" class="nd"><rect x="3414" y="2094" width="146" height="24"/><text x="3487" y="2111">Edouard Lethelier [1]</text></g>
<g id="n42" class="nd"><rect x="4027" y="2094" width="215" height="24"/><text x="4134.5" y="2111">Alessandro Lameiras Koerich [37]</text></g>
<g id="n43" class="nd"><rect x="2574" y="2180" width="129" height="24"/><text x="2638.5" y="2197">Jacques Facon [20]</text></g>
<g id="n44" class="nd"><rect x="4011" y="2180" width="247" height="24"/><text x="4134.5" y="2197">Bolsista de P. em P. do C. - Nível 1D [44]</text></g>
</g>
</svg>
